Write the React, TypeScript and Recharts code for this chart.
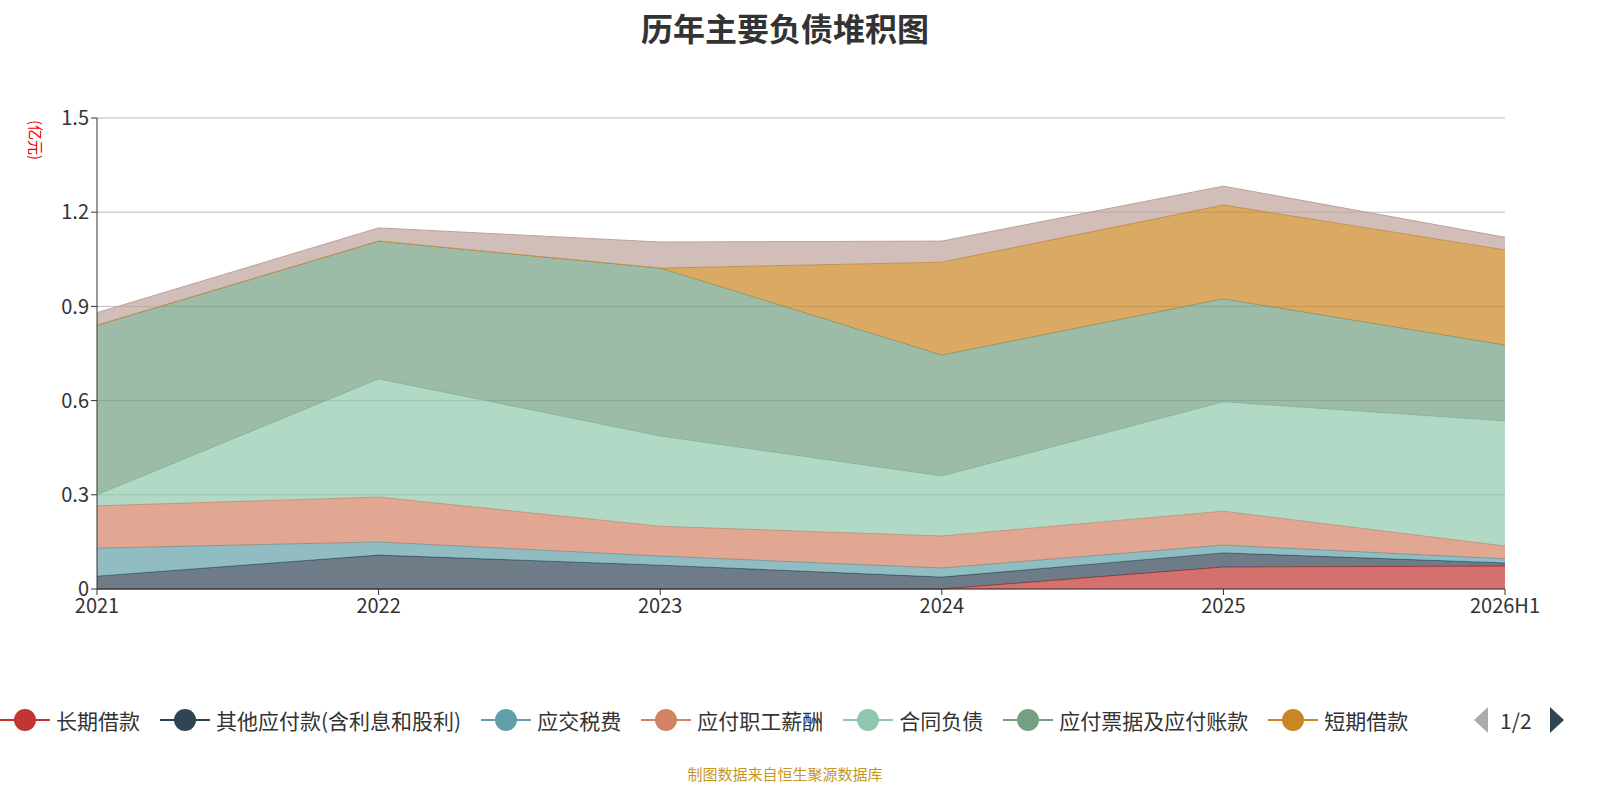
import { AreaChart, Area, XAxis, YAxis, CartesianGrid } from "recharts";

const years = ["2021", "2022", "2023", "2024", "2025", "2026H1"];
const longLoan = [0, 0, 0, 0, 0.07, 0.073];
const otherPay = [0.041, 0.108, 0.076, 0.038, 0.045, 0.01];
const taxPay = [0.089, 0.042, 0.029, 0.029, 0.025, 0.013];
const salaryPay = [0.135, 0.143, 0.095, 0.102, 0.108, 0.041];
const contractLiab = [0.035, 0.376, 0.287, 0.191, 0.348, 0.398];
const billsPay = [0.54, 0.439, 0.535, 0.385, 0.328, 0.242];
const shortLoan = [0, 0, 0, 0.296, 0.299, 0.303];
const otherCurrent = [0.04, 0.042, 0.083, 0.067, 0.06, 0.04];
const yTicks = [0, 0.3, 0.6, 0.9, 1.2, 1.5];

const series = [
  { key: "长期借款", values: longLoan, color: "#c23531" },
  { key: "其他应付款(含利息和股利)", values: otherPay, color: "#2f4554" },
  { key: "应交税费", values: taxPay, color: "#61a0a8" },
  { key: "应付职工薪酬", values: salaryPay, color: "#d48265" },
  { key: "合同负债", values: contractLiab, color: "#91c7ae" },
  { key: "应付票据及应付账款", values: billsPay, color: "#749f83" },
  { key: "短期借款", values: shortLoan, color: "#ca8622" },
  { key: "其他流动负债", values: otherCurrent, color: "#bda29a" },
];

const data = years.map((y, i) => {
  const row: Record<string, any> = { year: y };
  series.forEach((s) => (row[s.key] = s.values[i]));
  return row;
});

export default function App() {
  const font = "'Microsoft YaHei', 'Noto Sans CJK SC', sans-serif";
  return (
    <div style={{ position: "absolute", left: 0, top: 0, width: 1600, height: 800, background: "#fff", fontFamily: font, overflow: "hidden" }}>
      <div style={{ position: "absolute", top: 4, width: 1570, textAlign: "center", fontSize: 32, fontWeight: "bold", color: "#333" }}>
        历年主要负债堆积图
      </div>
      <div style={{ position: "absolute", left: 26, top: 120, fontSize: 15, color: "#e00", writingMode: "vertical-rl", textOrientation: "sideways" }}>(亿元)</div>
      <div style={{ position: "absolute", left: 0, top: 0 }}>
        <AreaChart width={1600} height={800} data={data} margin={{ top: 118, right: 95, bottom: 0, left: 0 }}>
          <CartesianGrid vertical={false} stroke="#bbb" />
          {series.map((s) => (
            <Area
              key={s.key}
              type="linear"
              dataKey={s.key}
              stackId="a"
              stroke={s.color}
              strokeWidth={1}
              fill={s.color}
              fillOpacity={0.7}
              isAnimationActive={false}
            />
          ))}
          <XAxis dataKey="year" height={211} stroke="#333" tick={{ fill: "#333", fontSize: 20 }} tickLine={{ stroke: "#333" }} tickMargin={4} />
          <YAxis
            domain={[0, 1.5]}
            ticks={yTicks}
            width={97}
            stroke="#333"
            tick={{ fill: "#333", fontSize: 20 }}
            tickFormatter={(v: number) => (v === 0 ? "0" : v.toFixed(1))}
          />
        </AreaChart>
      </div>
      <div style={{ position: "absolute", left: 0, top: 705, display: "flex", gap: 20, fontSize: 21, color: "#333", whiteSpace: "nowrap" }}>
        {series.slice(0, 7).map((s) => (
          <div key={s.key} style={{ display: "flex", alignItems: "center", height: 30 }}>
            <svg width={50} height={30} style={{ marginRight: 6 }}>
              <line x1={0} y1={15} x2={50} y2={15} stroke={s.color} strokeWidth={2} />
              <circle cx={25} cy={15} r={11} fill={s.color} />
            </svg>
            {s.key}
          </div>
        ))}
      </div>
      <svg width={20} height={30} style={{ position: "absolute", left: 1472, top: 705 }}>
        <polygon points="16,2 16,28 2,15" fill="#aaa" />
      </svg>
      <div style={{ position: "absolute", left: 1500, top: 705, fontSize: 21, color: "#333", lineHeight: "30px", background: "#fff" }}>1/2</div>
      <svg width={20} height={30} style={{ position: "absolute", left: 1548, top: 705 }}>
        <polygon points="2,2 2,28 16,15" fill="#2f4554" />
      </svg>
      <div style={{ position: "absolute", top: 763, width: 1570, textAlign: "center", fontSize: 15, color: "#c8961e" }}>
        制图数据来自恒生聚源数据库
      </div>
    </div>
  );
}
